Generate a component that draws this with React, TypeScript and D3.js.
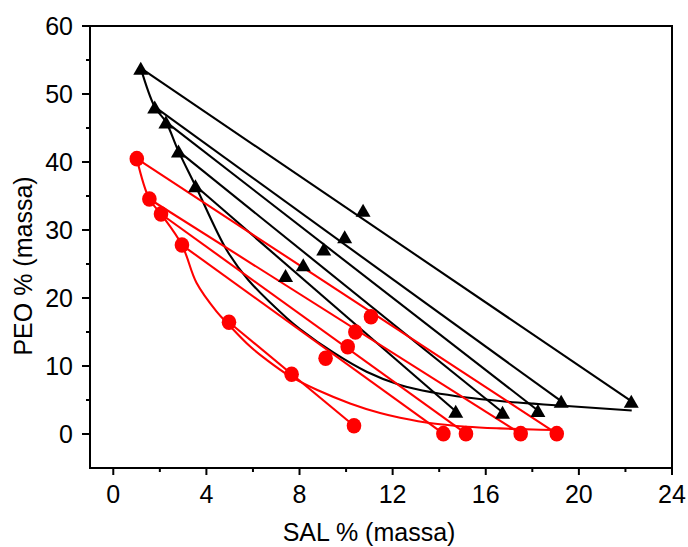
import React from "react";
import * as d3 from "d3";

// ---- data ----
const xTicks = [0, 4, 8, 12, 16, 20, 24];
const xMinor = [2, 6, 10, 14, 18, 22];
const yTicks = [0, 10, 20, 30, 40, 50, 60];
const yMinor = [5, 15, 25, 35, 45, 55];

// black system (triangles)
const blackTop: [number, number][] = [
  [1.18, 53.8], [1.78, 48.1], [2.26, 45.9], [2.8, 41.6], [3.53, 36.5],
];
const blackMid: [number, number][] = [
  [10.73, 32.9], [9.94, 29.0], [9.04, 27.2], [8.16, 24.9], [7.4, 23.3],
];
const blackBottom: [number, number][] = [
  [22.25, 4.82], [19.24, 4.82], [18.24, 3.46], [16.72, 3.2], [14.71, 3.35],
];
const blackCurve: [number, number][] = [
  [1.18, 53.8], [1.78, 48.1], [2.26, 45.9], [2.8, 41.6], [3.53, 36.5],
  [4.87, 27.06], [5.8, 22.65], [7.45, 17.06], [8.02, 15.44], [9.45, 11.99],
  [10.88, 9.16], [12.32, 7.21], [13.75, 6.1], [15.18, 5.37], [16.61, 4.85],
  [18.04, 4.46], [19.48, 4.12], [22.27, 3.46],
];

// red system (circles)
const redTop: [number, number][] = [
  [1.01, 40.49], [1.55, 34.56], [2.05, 32.35], [2.95, 27.79], [4.97, 16.43],
];
const redMid: [number, number][] = [
  [11.07, 17.25], [10.4, 15.0], [10.07, 12.84], [9.12, 11.13], [7.66, 8.78],
];
const redBottom: [number, number][] = [
  [19.05, 0.05], [17.5, 0.05], [15.15, 0.05], [14.18, 0.05], [10.34, 1.22],
];
const redCurve: [number, number][] = [
  [1.01, 40.49], [1.55, 34.56], [2.05, 32.35], [2.95, 27.79], [3.58, 22.2],
  [4.44, 18.0], [4.97, 16.03], [5.87, 12.9], [6.59, 10.9], [7.59, 8.5],
  [8.74, 6.5], [10.17, 4.5], [11.46, 3.09], [12.32, 2.4], [13.75, 1.54],
  [15.18, 1.07], [16.61, 0.82], [18.04, 0.66], [18.9, 0.59],
];

const W = 688;
const H = 547;
const left = 90, right = 672, top = 26, bottom = 468;
const FONT = "'Liberation Sans', Arial, sans-serif";

export default function App() {
  const x = d3.scaleLinear().domain([-1, 24]).range([left, right]);
  const y = d3.scaleLinear().domain([-5, 60]).range([bottom, top]);
  const line = d3
    .line<[number, number]>()
    .x((d) => x(d[0]))
    .y((d) => y(d[1]))
    .curve(d3.curveCatmullRom.alpha(0.5));
  const tri = "M0,-6.5L7.5,6.5L-7.5,6.5Z";

  return (
    <svg
      width={W}
      height={H}
      style={{ position: "absolute", left: 0, top: 0, background: "#fff" }}
    >
      <rect x={0} y={0} width={W} height={H} fill="#fff" />
      {/* black tie lines */}
      {blackTop.map((d, i) => (
        <line
          key={"bt" + i}
          x1={x(d[0])}
          y1={y(d[1])}
          x2={x(blackBottom[i][0])}
          y2={y(blackBottom[i][1])}
          stroke="#000"
          strokeWidth={2.1}
        />
      ))}
      <path d={line(blackCurve) || ""} fill="none" stroke="#000" strokeWidth={2.1} />
      {/* red tie lines */}
      {redTop.map((d, i) => (
        <line
          key={"rt" + i}
          x1={x(d[0])}
          y1={y(d[1])}
          x2={x(redBottom[i][0])}
          y2={y(redBottom[i][1])}
          stroke="#ff0000"
          strokeWidth={2.1}
        />
      ))}
      <path d={line(redCurve) || ""} fill="none" stroke="#ff0000" strokeWidth={2.1} />
      {/* markers */}
      {[...blackTop, ...blackMid, ...blackBottom].map((d, i) => (
        <path key={"tm" + i} d={tri} transform={`translate(${x(d[0])},${y(d[1])})`} fill="#000" />
      ))}
      {[...redTop, ...redMid, ...redBottom].map((d, i) => (
        <ellipse key={"cm" + i} cx={x(d[0])} cy={y(d[1])} rx={7.3} ry={7.8} fill="#ff0000" />
      ))}
      {/* frame */}
      <rect
        x={left}
        y={top}
        width={right - left}
        height={bottom - top}
        fill="none"
        stroke="#000"
        strokeWidth={2}
      />
      {/* x axis ticks */}
      {xTicks.map((t) => (
        <g key={"xt" + t}>
          <line x1={x(t)} x2={x(t)} y1={bottom} y2={bottom + 7} stroke="#000" strokeWidth={2} />
          <text x={x(t)} y={503} textAnchor="middle" fontSize={25} fontFamily={FONT} fill="#000">
            {t}
          </text>
        </g>
      ))}
      {xMinor.map((t) => (
        <line key={"xm" + t} x1={x(t)} x2={x(t)} y1={bottom} y2={bottom + 4} stroke="#000" strokeWidth={2} />
      ))}
      {yTicks.map((t) => (
        <g key={"yt" + t}>
          <line x1={left - 8} x2={left} y1={y(t)} y2={y(t)} stroke="#000" strokeWidth={2} />
          <text x={73} y={y(t) + 9} textAnchor="end" fontSize={25} fontFamily={FONT} fill="#000">
            {t}
          </text>
        </g>
      ))}
      {yMinor.map((t) => (
        <line key={"ym" + t} x1={left - 4} x2={left} y1={y(t)} y2={y(t)} stroke="#000" strokeWidth={2} />
      ))}
      <text x={369} y={541} textAnchor="middle" fontSize={25} fontFamily={FONT} fill="#000">
        SAL % (massa)
      </text>
      <text
        transform="translate(32,266) rotate(-90)"
        textAnchor="middle"
        fontSize={25}
        fontFamily={FONT}
        fill="#000"
      >
        PEO % (massa)
      </text>
    </svg>
  );
}
